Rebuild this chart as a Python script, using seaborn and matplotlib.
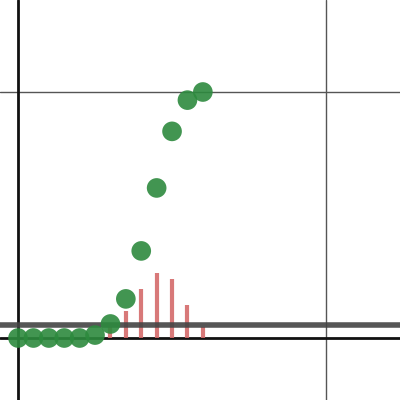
import matplotlib
matplotlib.use("Agg")
import matplotlib.pyplot as plt
import seaborn as sns
import pandas as pd

xs = [0,1,2,3,4,5,6,7,8,9,10,11,12]
cdf = [0.0,0.0,0.0,0.0,0.0,0.012,0.057,0.159,0.354,0.61,0.84,0.967,1.0]
bar_x = [6,7,8,9,10,11,12]
pmf = [0.045,0.11,0.2,0.264,0.24,0.134,0.045]
hline_y = 0.053

sns.set_theme(style="white")
fig = plt.figure(figsize=(4,4), dpi=100)
ax = fig.add_axes([0,0,1,1])
ax.set_xlim(-1.17, 24.8)
ax.set_ylim(-0.252, 1.374)
ax.axvline(20, color="#555555", lw=1)
ax.axhline(1, color="#555555", lw=1)
ax.axvline(0, color="#111111", lw=2)
ax.axhline(0, color="#111111", lw=2)
ax.vlines(bar_x, 0, pmf, color="#d46a6a", lw=3, alpha=0.9)
ax.axhline(hline_y, color="#444444", lw=4, alpha=0.9)
df = pd.DataFrame({"x": xs, "y": cdf})
sns.scatterplot(data=df, x="x", y="y", ax=ax, s=200, color="#2d8a3e", alpha=0.9, edgecolor="none", zorder=5)
ax.set_xticks([]); ax.set_yticks([])
ax.set_xlabel(""); ax.set_ylabel("")
for s in ax.spines.values():
    s.set_visible(False)
fig.savefig("out.png", dpi=100)
